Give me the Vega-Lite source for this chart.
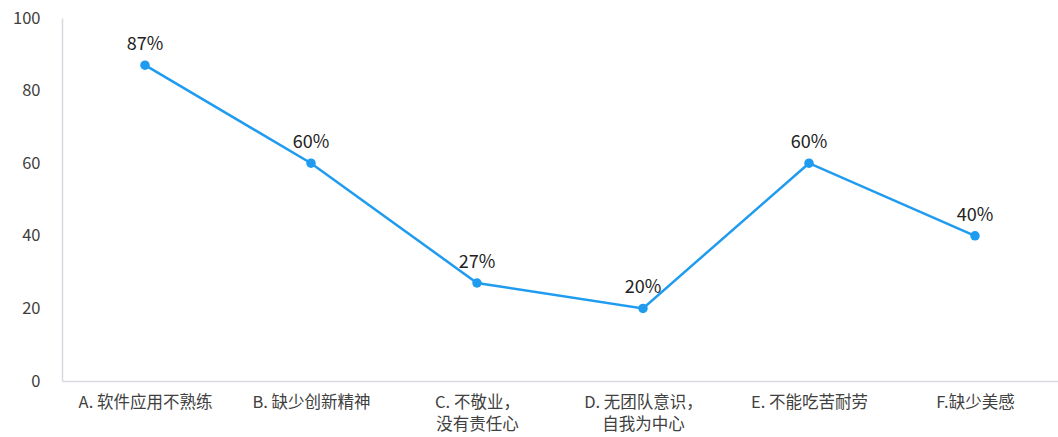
{
  "$schema": "https://vega.github.io/schema/vega-lite/v6.json",
  "autosize": {"type": "none"},
  "padding": {"left": 62, "top": 18, "right": 0, "bottom": 56},
  "width": 996,
  "height": 363,
  "background": "white",
  "config": {
    "view": {"stroke": null},
    "font": "Noto Sans CJK SC"
  },
  "data": {
    "values": [
      {"item": "A. 软件应用不熟练", "value": 87, "label": "87%"},
      {"item": "B. 缺少创新精神", "value": 60, "label": "60%"},
      {"item": "C. 不敬业，|没有责任心", "value": 27, "label": "27%"},
      {"item": "D. 无团队意识，|自我为中心", "value": 20, "label": "20%"},
      {"item": "E. 不能吃苦耐劳", "value": 60, "label": "60%"},
      {"item": "F.缺少美感", "value": 40, "label": "40%"}
    ]
  },
  "encoding": {
    "x": {
      "field": "item",
      "type": "nominal",
      "sort": null,
      "scale": {"type": "point", "padding": 0.5},
      "axis": {
        "title": null,
        "labelAngle": 0,
        "labelExpr": "split(datum.label, '|')",
        "labelFont": "Noto Sans CJK SC",
        "labelFontSize": 16.5,
        "labelColor": "#404040",
        "labelPadding": 13,
        "labelLineHeight": 22,
        "ticks": false,
        "domainColor": "#d9d9e3",
        "domainWidth": 1.5,
        "grid": false
      }
    },
    "y": {
      "field": "value",
      "type": "quantitative",
      "scale": {"domain": [0, 100]},
      "axis": {
        "title": null,
        "values": [0, 20, 40, 60, 80, 100],
        "labelFont": "Noto Sans CJK SC",
        "labelFontSize": 16.5,
        "labelColor": "#404040",
        "labelPadding": 22,
        "ticks": false,
        "grid": false,
        "domainColor": "#d9d9e3",
        "domainWidth": 1.5
      }
    }
  },
  "layer": [
    {
      "mark": {"type": "line", "color": "#1f9bf0", "strokeWidth": 2.5}
    },
    {
      "mark": {"type": "point", "filled": true, "color": "#1f9bf0", "size": 90, "opacity": 1}
    },
    {
      "mark": {"type": "text", "dy": -20, "fontSize": 18, "color": "#222222", "font": "Noto Sans CJK SC"},
      "encoding": {"text": {"field": "label"}}
    }
  ]
}
